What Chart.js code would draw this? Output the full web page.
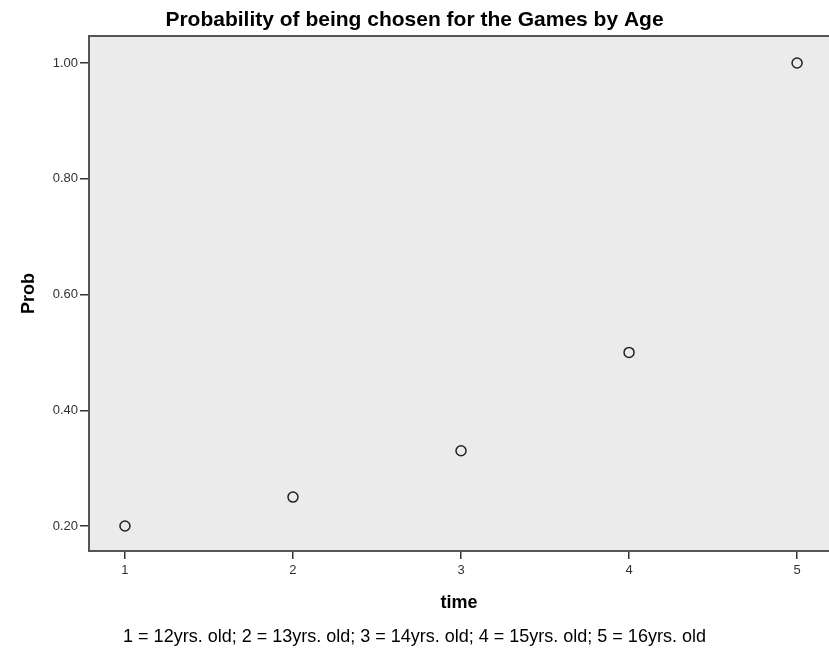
<!DOCTYPE html>
<html>
<head>
<meta charset="utf-8">
<script src="https://cdn.jsdelivr.net/npm/chart.js@4.4.1/dist/chart.umd.min.js"></script>
<style>
  body { margin: 0; background: #fff; }
  canvas { display: block; }
</style>
</head>
<body>
<canvas id="probChart" width="829" height="655"></canvas>
<script>
// values
const times = [1, 2, 3, 4, 5];
const probs = [0.20, 0.25, 0.33, 0.50, 1.00];
const yTicks = [0.20, 0.40, 0.60, 0.80, 1.00];
const xTicks = [1, 2, 3, 4, 5];
const ageLabels = ['12yrs. old', '13yrs. old', '14yrs. old', '15yrs. old', '16yrs. old'];

const footnote = times.map((t, i) => t + ' = ' + ageLabels[i]).join('; ');
const font = 'Liberation Sans, Arial, sans-serif';

// grey plot area with a top border, like the SPSS output
const plotBox = {
    id: 'plotBox',
    beforeDraw(chart) {
        const { ctx, chartArea: a } = chart;
        ctx.save();
        ctx.fillStyle = '#ebebeb';
        ctx.fillRect(a.left, a.top, a.right - a.left, a.bottom - a.top);
        ctx.strokeStyle = '#555';
        ctx.lineWidth = 2;
        ctx.beginPath();
        ctx.moveTo(a.left, a.top);
        ctx.lineTo(a.right, a.top);
        ctx.stroke();
        ctx.restore();
    }
};

new Chart(document.getElementById('probChart'), {
    type: 'scatter',
    data: {
        datasets: [{
            label: 'Prob',
            data: times.map((t, i) => ({ x: t, y: probs[i] })),
            pointRadius: 5,
            pointHoverRadius: 5,
            borderColor: '#222',
            borderWidth: 1.5,
            backgroundColor: 'rgba(0,0,0,0)'
        }]
    },
    options: {
        responsive: false,
        animation: false,
        layout: { padding: 0, autoPadding: false },
        plugins: {
            legend: { display: false },
            tooltip: { enabled: false },
            title: {
                display: true,
                text: 'Probability of being chosen for the Games by Age',
                color: '#000',
                font: { family: font, size: 21, weight: 'bold' },
                padding: { top: 7.4, bottom: 3.4 }
            },
            subtitle: {
                display: true,
                position: 'bottom',
                text: footnote,
                color: '#000',
                font: { family: font, size: 18 },
                padding: { top: 7, bottom: 7.2 }
            }
        },
        scales: {
            x: {
                type: 'linear',
                min: 0.786,
                max: 5.19,
                afterBuildTicks: s => { s.ticks = xTicks.map(v => ({ value: v })); },
                afterFit: s => { s.height = 68.2; },
                ticks: {
                    color: '#333',
                    font: { family: font, size: 13 },
                    padding: 4
                },
                grid: { drawOnChartArea: false, drawTicks: true, tickLength: 8, color: '#333', lineWidth: 1.5 },
                border: { display: true, color: '#555', width: 2 },
                title: {
                    display: true,
                    text: 'time',
                    color: '#000',
                    font: { family: font, size: 18, weight: 'bold' },
                    padding: { top: 0, bottom: 5 }
                }
            },
            y: {
                type: 'linear',
                min: 0.1568,
                max: 1.0467,
                afterBuildTicks: s => { s.ticks = yTicks.map(v => ({ value: v })); },
                afterFit: s => { s.width = 89; },
                ticks: {
                    color: '#333',
                    font: { family: font, size: 13 },
                    padding: 2,
                    callback: v => Number(v).toFixed(2)
                },
                grid: { drawOnChartArea: false, drawTicks: true, tickLength: 9, color: '#333', lineWidth: 1.5 },
                border: { display: true, color: '#555', width: 2 },
                title: {
                    display: true,
                    text: 'Prob',
                    color: '#000',
                    font: { family: font, size: 18, weight: 'bold' },
                    padding: { top: 18, bottom: 0 }
                }
            }
        }
    },
    plugins: [plotBox]
});
</script>
</body>
</html>
